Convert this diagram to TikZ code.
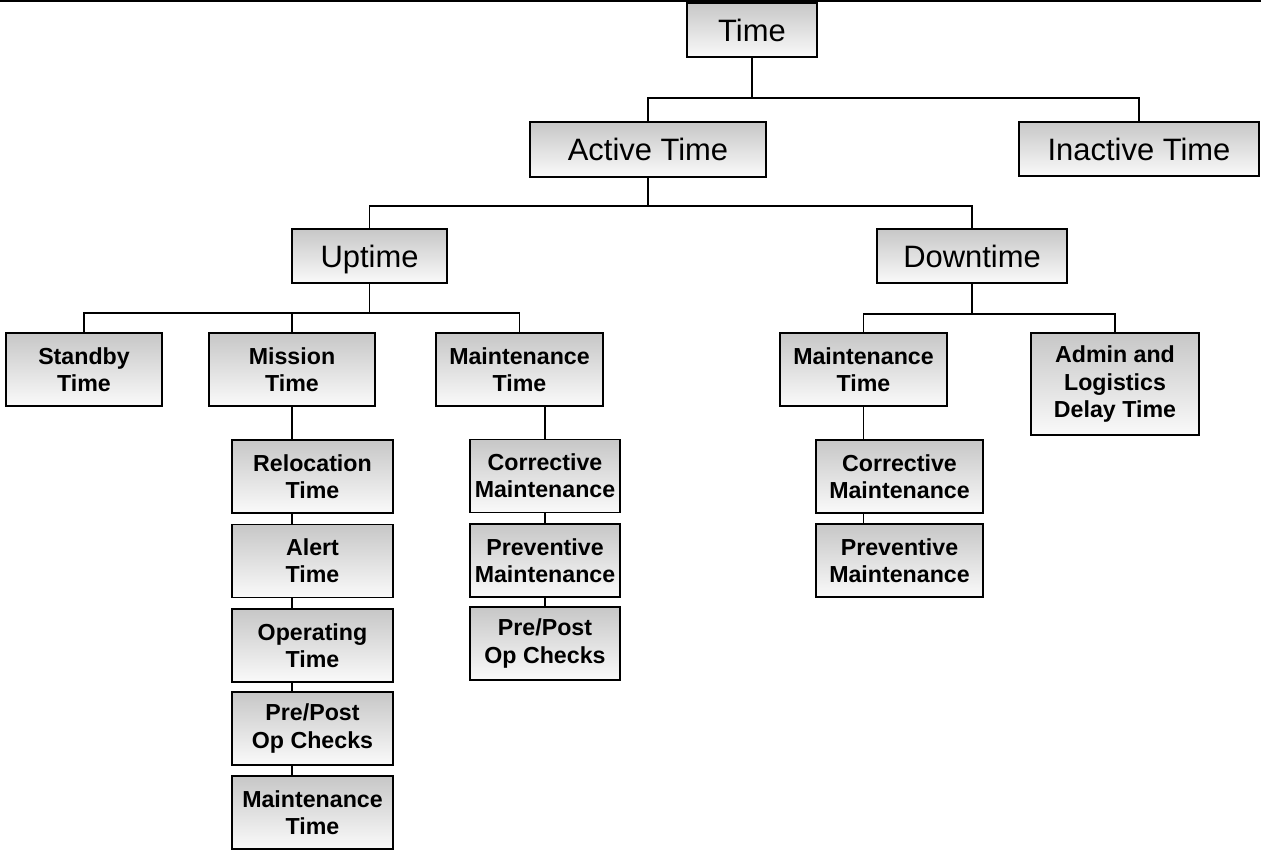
\documentclass[tikz,border=0pt]{standalone}
\usepackage{fontspec}
\setmainfont{Liberation Sans}
\usetikzlibrary{positioning}

\begin{document}
\begin{tikzpicture}[x=0.02cm, y=-0.02cm, line width=1.1pt,
	box/.style={draw, top color=black!22, bottom color=black!2, inner sep=0pt, align=center},
	headbox/.style={box, minimum height=1.09cm, text height=12.6pt, text depth=0pt, font=\fontsize{17.6}{20}\selectfont},
	itembox/.style={box, minimum height=1.46cm, font=\bfseries\fontsize{13.2}{15.4}\selectfont}]
	\useasboundingbox (0,0) rectangle (1261,850);
	\draw[line width=1.5pt] (0,1) -- (1261,1);
	% upper levels
	\node[headbox, minimum width=2.6cm] (time) at (752,30) {Time};
	\node[headbox, minimum width=4.72cm] (active) at (648,149.5) {Active Time};
	\node[headbox, minimum width=4.8cm] (inactive) at (1139,149) {Inactive Time};
	\node[headbox, minimum width=3.1cm] (up) at (369.5,256) {Uptime};
	\node[headbox, minimum width=3.8cm] (down) at (972,256) {Downtime};
	% third level
	\node[itembox, minimum width=3.12cm] (standby) at (84,369.5) {Standby\\Time};
	\node[itembox, minimum width=3.32cm] (mission) at (292,369.5) {Mission\\Time};
	\node[itembox, minimum width=3.34cm] (maintup) at (519.5,369.5) {Maintenance\\Time};
	\node[itembox, minimum width=3.34cm] (maintdown) at (863.5,369.5) {Maintenance\\Time};
	\node[itembox, minimum width=3.36cm, minimum height=2.04cm] (admin) at (1115,384) {Admin and\\Logistics\\Delay Time};
	% mission time parts
	\node[itembox, minimum width=3.22cm] (reloc) at (312.5,476.5) {Relocation\\Time};
	\node[itembox, minimum width=3.22cm] (alert) at (312.5,561) {Alert\\Time};
	\node[itembox, minimum width=3.22cm] (oper) at (312.5,645.5) {Operating\\Time};
	\node[itembox, minimum width=3.22cm] (checksA) at (312.5,728.5) {Pre/Post\\Op Checks};
	\node[itembox, minimum width=3.22cm] (maintA) at (312.5,812.5) {Maintenance\\Time};
	% uptime maintenance parts
	\node[itembox, minimum width=3cm] (corrU) at (545,476) {Corrective\\Maintenance};
	\node[itembox, minimum width=3cm] (prevU) at (545,560.5) {Preventive\\Maintenance};
	\node[itembox, minimum width=3cm] (checksU) at (545,643.5) {Pre/Post\\Op Checks};
	% downtime maintenance parts
	\node[itembox, minimum width=3.34cm] (corrD) at (899.5,476.5) {Corrective\\Maintenance};
	\node[itembox, minimum width=3.34cm] (prevD) at (899.5,560.5) {Preventive\\Maintenance};
	% connectors
	\draw (time.south) -- ++(0,40) coordinate (t1);
	\draw (active.north) |- (t1) -| (inactive.north);
	\draw (active.south) -- ++(0,28) coordinate (a1);
	\draw (up.north) |- (a1) -| (down.north);
	\draw (up.south) -- ++(0,29) coordinate (u1);
	\draw (standby.north) |- (u1) -| (maintup.north);
	\draw (mission.north) -- (mission.north |- u1);
	\draw (down.south) -- ++(0,30) coordinate (d1);
	\draw (maintdown.north) |- (d1) -| (admin.north);
	% stacked parts
	\foreach \a/\b in {mission/reloc, reloc/alert, alert/oper, oper/checksA, checksA/maintA}
		\draw (\a.south -| mission.south) -- (\b.north -| mission.south);
	\foreach \a/\b in {maintup/corrU, corrU/prevU, prevU/checksU}
		\draw (\a.south -| corrU.north) -- (\b.north -| corrU.north);
	\foreach \a/\b in {maintdown/corrD, corrD/prevD}
		\draw (\a.south -| maintdown.south) -- (\b.north -| maintdown.south);
\end{tikzpicture}
\end{document}
